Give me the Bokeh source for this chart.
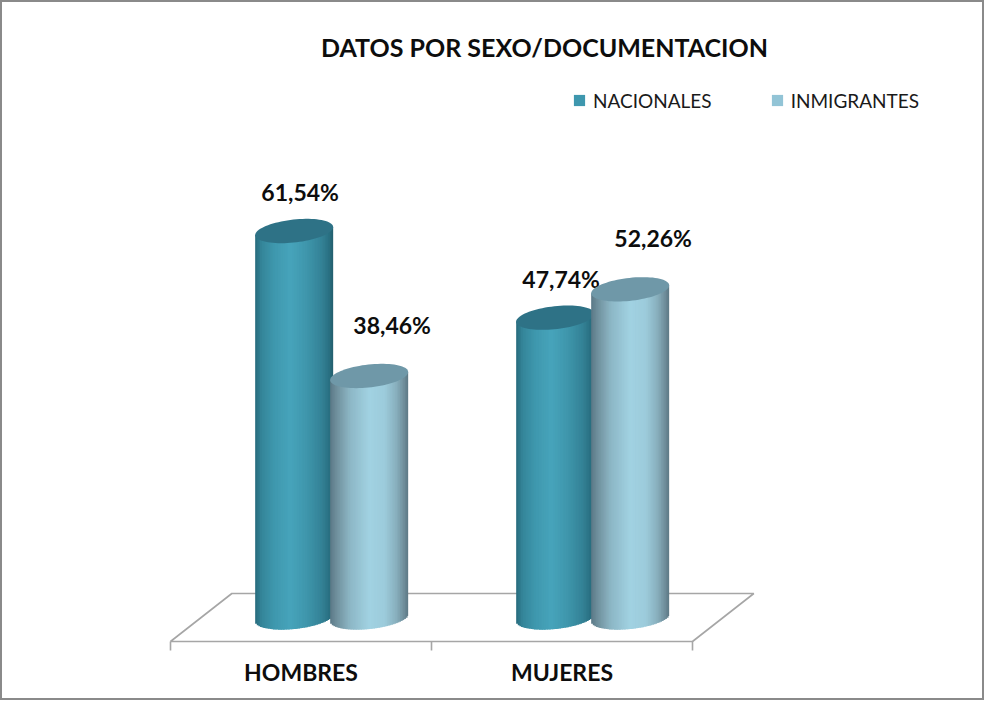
import numpy as np
from bokeh.plotting import figure
from bokeh.models import Range1d, Label, Legend, LegendItem
from bokeh.core.properties import value
from bokeh.embed import file_html
from bokeh.resources import INLINE

# ---------------- data ----------------
title_text = "DATOS POR SEXO/DOCUMENTACION"
categories = ["HOMBRES", "MUJERES"]
series_names = ["NACIONALES", "INMIGRANTES"]
nacionales = [61.54, 47.74]
inmigrantes = [38.46, 52.26]

# ---------------- layout / style ----------------
W, H = 984, 700
PX_X = 261.0      # pixels per category
PX_Y = 6.28       # pixels per percentage point
X0_PX = 170.0     # figure px where x = 0
Y0_PX = 641.0     # figure px (from top) where y = 0 (front edge of floor)
DEPTH_X = 0.235   # floor depth shift (x units)
DEPTH_Y = 48.0 / PX_Y
HALF_W = 39.0 / PX_X
SER_OFF = 37.5 / PX_X
ELL_B = 11.5 / PX_Y
TILT = 4.0 / PX_Y
NSTRIP = 48
FONT = value("Lato")

profiles = {
    "NACIONALES": [(0.00, "#276b7b"), (0.08, "#348599"), (0.25, "#3f98ae"), (0.45, "#47a4bb"),
                   (0.65, "#3f97ad"), (0.85, "#348296"), (0.95, "#2a7082"), (1.00, "#225d6b")],
    "INMIGRANTES": [(0.00, "#5a7886"), (0.08, "#6f8f9c"), (0.25, "#8cb6c5"), (0.50, "#a1d2e2"),
                    (0.70, "#9ccbdb"), (0.85, "#88afbd"), (0.95, "#6e8c99"), (1.00, "#5c7884")],
}
cap_colors = {"NACIONALES": "#2e7286", "INMIGRANTES": "#6f98a8"}
legend_colors = {"NACIONALES": "#3e97ae", "INMIGRANTES": "#92c4d6"}
label_offsets = {"NACIONALES": (6, -39), "INMIGRANTES": (23, -51)}
GRID_COL = "#a6a6a6"


def hex2rgb(h):
    h = h.lstrip("#")
    return np.array([int(h[i:i + 2], 16) for i in (0, 2, 4)], dtype=float)


def shade(profile, t):
    us = [q[0] for q in profile]
    cols = [hex2rgb(q[1]) for q in profile]
    rgb = [np.interp(t, us, [c[k] for c in cols]) for k in range(3)]
    return "#%02x%02x%02x" % tuple(int(round(v)) for v in rgb)


p = figure(width=W, height=H,
           x_range=Range1d(-X0_PX / PX_X, (W - X0_PX) / PX_X),
           y_range=Range1d(-(H - Y0_PX) / PX_Y, Y0_PX / PX_Y),
           x_axis_type=None, y_axis_type=None,
           toolbar_location=None, output_backend="svg", min_border=0)
p.grid.visible = False
p.outline_line_color = "#8a8a8a"
p.outline_line_width = 3
p.background_fill_color = "white"

ncat = len(categories)

# floor (3-D base)
p.patch([0, ncat, ncat + DEPTH_X, DEPTH_X], [0, 0, DEPTH_Y, DEPTH_Y],
        fill_color="white", line_color=GRID_COL, line_width=1.6)
# category axis ticks
p.segment(x0=list(range(ncat + 1)), y0=[0] * (ncat + 1),
          x1=list(range(ncat + 1)), y1=[-9 / PX_Y] * (ncat + 1),
          line_color=GRID_COL, line_width=1.6)
p.text(x=[i + 0.5 for i in range(ncat)], y=[0] * ncat, text=categories,
       y_offset=30, text_align="center", text_baseline="middle",
       text_font=FONT, text_font_style="bold", text_font_size="23px", text_color="#0d0d0d")

base_y = DEPTH_Y / 2.0
legend_items = []
for s_idx, (sname, vals) in enumerate(zip(series_names, [nacionales, inmigrantes])):
    L, R, T, B, C = [], [], [], [], []
    cap_xs, cap_ys = [], []
    cx_list, top_list = [], []
    for c_idx, v in enumerate(vals):
        cx = c_idx + 0.5 + DEPTH_X / 2 + (2 * s_idx - 1) * SER_OFF
        top = base_y + v
        edges = np.linspace(-1, 1, NSTRIP + 1)
        dw = edges[1] - edges[0]
        for k in range(NSTRIP):
            u = (edges[k] + edges[k + 1]) / 2
            L.append(cx + HALF_W * edges[k])
            R.append(cx + HALF_W * min(edges[k] + 1.6 * dw, 1.0))
            T.append(top + TILT * u)
            B.append(base_y + TILT * u - ELL_B * np.sqrt(max(1 - u * u, 0)))
            C.append(shade(profiles[sname], (u + 1) / 2))
        t = np.linspace(0, 2 * np.pi, 80)
        cap_xs.append(list(cx + HALF_W * np.cos(t)))
        cap_ys.append(list(top + TILT * np.cos(t) + ELL_B * np.sin(t)))
        cx_list.append(cx)
        top_list.append(top)
    # legend swatch renderer (sits hidden behind the cylinder bodies)
    r = p.scatter(x=cx_list, y=[base_y] * len(vals), marker="square", size=11,
                  fill_color=legend_colors[sname], line_color=None)
    legend_items.append(LegendItem(label=sname, renderers=[r], index=0))
    p.quad(left=L, right=R, top=T, bottom=B, fill_color=C, line_color=None)
    p.patches(cap_xs, cap_ys, fill_color=cap_colors[sname], line_color=None)
    dx, dy = label_offsets[sname]
    p.text(x=cx_list, y=top_list,
           text=[("%.2f" % v).replace(".", ",") + "%" for v in vals],
           x_offset=dx, y_offset=dy, text_align="center", text_baseline="middle",
           text_font=FONT, text_font_style="bold", text_font_size="23px", text_color="#0d0d0d")

legend = Legend(items=legend_items, orientation="horizontal", location=(565, 586),
                glyph_width=28, glyph_height=28, label_standoff=-4, spacing=51,
                padding=0, margin=0, border_line_color=None, background_fill_alpha=0,
                label_text_font="Lato", label_text_font_size="19px", label_text_color="#1a1a1a")
p.add_layout(legend)

p.add_layout(Label(x=544, y=H - 46, x_units="screen", y_units="screen", text=title_text,
                   text_align="center", text_baseline="middle", text_font="Lato",
                   text_font_style="bold", text_font_size="25px", text_color="#0d0d0d"))

open("out.html", "w").write(file_html(p, INLINE))
